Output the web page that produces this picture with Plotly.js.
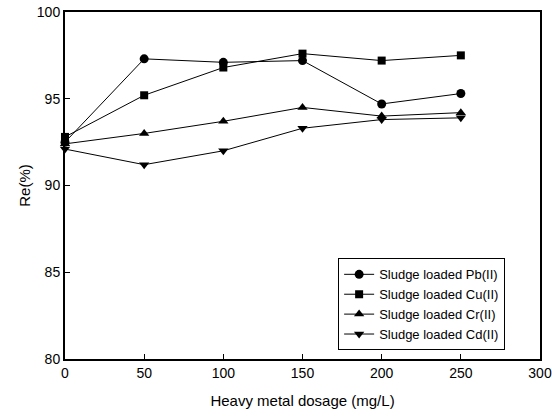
<!DOCTYPE html>
<html><head><meta charset="utf-8">
<script src="https://cdn.plot.ly/plotly-3.0.1.min.js"></script>
<style>body{margin:0;background:#fff}#c{width:552px;height:417px}</style>
</head><body><div id="c"></div>
<script>
const dosage = [0, 50, 100, 150, 200, 250];
const pb = [92.5, 97.3, 97.1, 97.2, 94.7, 95.3];
const cu = [92.8, 95.2, 96.8, 97.6, 97.2, 97.5];
const cr = [92.4, 93.0, 93.7, 94.5, 94.0, 94.2];
const cd = [92.1, 91.2, 92.0, 93.3, 93.8, 93.9];
const names = ['Sludge loaded Pb(II)', 'Sludge loaded Cu(II)', 'Sludge loaded Cr(II)', 'Sludge loaded Cd(II)'];
const symbols = ['circle', 'square', 'triangle-up', 'triangle-down'];
const series = [pb, cu, cr, cd];
const traces = series.map((s, i) => ({
  x: dosage, y: s, name: names[i], type: 'scatter', mode: 'lines+markers',
  line: {color: '#000', width: 1},
  marker: {symbol: symbols[i], size: i === 1 ? 8 : 9, color: '#000'},
  cliponaxis: false
}));
const layout = {
  width: 552, height: 417,
  margin: {l: 65, r: 12, t: 12, b: 58},
  paper_bgcolor: '#fff', plot_bgcolor: '#fff',
  font: {family: 'Liberation Sans, Arial, sans-serif', color: '#000', size: 14},
  showlegend: true,
  legend: {x: 0.575, y: 0.29, xanchor: 'left', yanchor: 'top',
    bordercolor: '#000', borderwidth: 1, bgcolor: '#fff',
    font: {size: 13}, tracegroupgap: 0},
  xaxis: {range: [0, 300], dtick: 50, tick0: 0, ticks: 'inside', ticklen: 5,
    tickwidth: 1, tickcolor: '#000', showline: true, linewidth: 2, linecolor: '#000',
    mirror: true, showgrid: false, zeroline: false,
    title: {text: 'Heavy metal dosage (mg/L)', font: {size: 15}, standoff: 16}},
  yaxis: {range: [80, 100], dtick: 5, tick0: 80, ticks: 'inside', ticklen: 5,
    tickwidth: 1, tickcolor: '#000', showline: true, linewidth: 2, linecolor: '#000',
    mirror: true, showgrid: false, zeroline: false,
    title: {text: 'Re(%)', font: {size: 15}, standoff: 3}}
};
Plotly.newPlot('c', traces, layout, {displayModeBar: false, staticPlot: true});
</script></body></html>
